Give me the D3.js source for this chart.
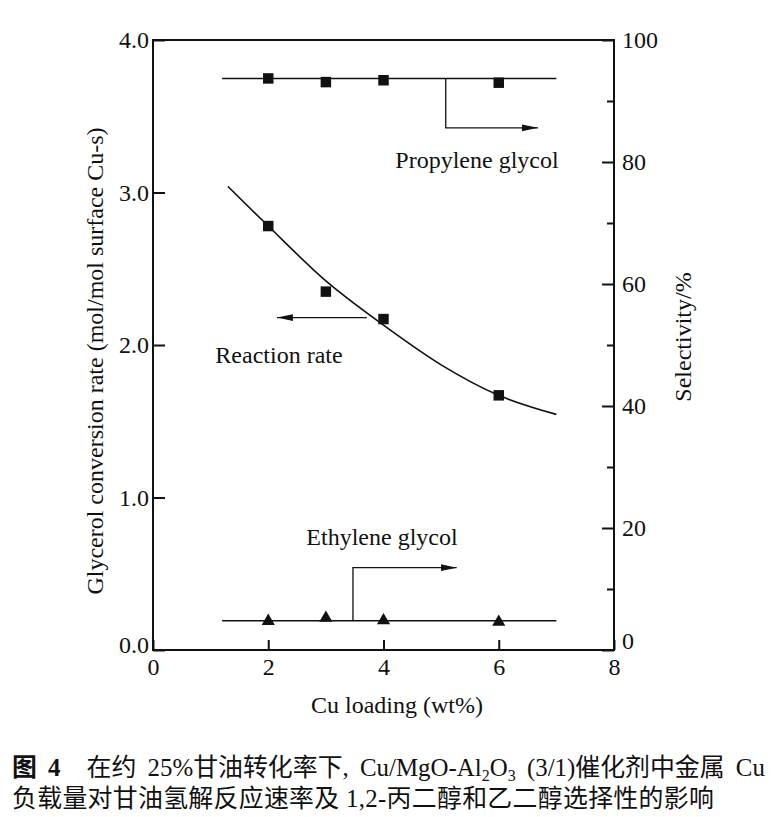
<!DOCTYPE html>
<html>
<head>
<meta charset="utf-8">
<script src="https://cdn.jsdelivr.net/npm/d3@7"></script>
<style>
  html, body { margin: 0; padding: 0; background: #fff; }
  svg { display: block; }
</style>
</head>
<body>
<svg id="chart" width="775" height="817"></svg>
<script>
// ---------- data ----------
const loadings = [2, 3, 4, 6];                       // Cu loading (wt%)
const reactionRate = [2.78, 2.35, 2.17, 1.67];       // left axis
const pgSelectivity = [93.7, 93.1, 93.4, 93.0];      // propylene glycol, right axis
const egSelectivity = [4.9, 5.4, 5.0, 4.75];         // ethylene glycol, right axis

// fitted curve / lines
const rateFitX = [1.3, 2, 3, 4, 5, 6, 7];
const rateFitY = [3.04, 2.78, 2.42, 2.13, 1.87, 1.67, 1.545];
const pgFitX = [1.2, 7.0];
const pgFitY = [93.7, 93.7];
const egFitX = [1.2, 7.0];
const egFitY = [4.8, 4.8];

// axis ticks
const xTicks = [0, 2, 4, 6, 8];
const yLeftTicks = [0, 1, 2, 3, 4];
const yRightMajor = [0, 20, 40, 60, 80, 100];
const yRightMinor = [10, 30, 50, 70, 90];

// annotation arrows (data coordinates)
const pgArrowX = [5.08, 5.08, 6.68];
const pgArrowY = [93.7, 85.6, 85.6];
const rateArrowX = [3.71, 2.15];
const rateArrowY = [2.18, 2.18];
const egArrowX = [3.47, 3.47, 5.27];
const egArrowY = [4.8, 13.5, 13.5];

// ---------- layout ----------
const serif = "'Liberation Serif', 'Times New Roman', serif";
const mLeft = 153, mRight = 614, mTop = 40, mBottom = 650;

const svg = d3.select("#chart");
const x = d3.scaleLinear().domain([0, 8]).range([mLeft, mRight]);
const yL = d3.scaleLinear().domain([0, 4]).range([mBottom, mTop]);
const yR = d3.scaleLinear().domain([0, 100]).range([mBottom, mTop]);

// frame
svg.append("rect")
  .attr("x", mLeft).attr("y", mTop)
  .attr("width", mRight - mLeft).attr("height", mBottom - mTop)
  .attr("fill", "none").attr("stroke", "#111").attr("stroke-width", 2);

function styleAxis(g) {
  g.select(".domain").remove();
  g.selectAll(".tick line").attr("stroke", "#111").attr("stroke-width", 2);
  g.selectAll(".tick text").attr("fill", "#111")
    .style("font-family", serif).style("font-size", "24px");
}

// bottom axis
svg.append("g")
  .attr("transform", `translate(0,${mBottom})`)
  .call(d3.axisBottom(x).tickValues(xTicks).tickFormat(d3.format("d"))
        .tickSizeInner(-10).tickSizeOuter(0).tickPadding(8))
  .call(styleAxis);

// left axis
const gl = svg.append("g")
  .attr("transform", `translate(${mLeft},0)`)
  .call(d3.axisLeft(yL).tickValues(yLeftTicks).tickFormat(d3.format(".1f"))
        .tickSizeInner(-12).tickSizeOuter(0).tickPadding(4))
  .call(styleAxis);
gl.selectAll(".tick text").filter(d => d === 0).attr("dy", "0.12em");

// right axis major
const gr = svg.append("g")
  .attr("transform", `translate(${mRight},0)`)
  .call(d3.axisRight(yR).tickValues(yRightMajor).tickFormat(d3.format("d"))
        .tickSizeInner(-12).tickSizeOuter(0).tickPadding(8))
  .call(styleAxis);
gr.selectAll(".tick text").filter(d => d === 0).attr("dy", "-0.08em");
// right axis minor
svg.append("g")
  .attr("transform", `translate(${mRight},0)`)
  .call(d3.axisRight(yR).tickValues(yRightMinor).tickFormat("")
        .tickSizeInner(-7).tickSizeOuter(0))
  .call(styleAxis);

// axis titles
svg.append("text")
  .attr("transform", `translate(103,361) rotate(-90)`)
  .attr("text-anchor", "middle")
  .style("font-family", serif).style("font-size", "24px").attr("fill", "#111")
  .text("Glycerol conversion rate (mol/mol surface Cu-s)");
svg.append("text")
  .attr("transform", `translate(691,337) rotate(-90)`)
  .attr("text-anchor", "middle")
  .style("font-family", serif).style("font-size", "24px").attr("fill", "#111")
  .text("Selectivity/%");
svg.append("text")
  .attr("x", 397).attr("y", 713)
  .attr("text-anchor", "middle")
  .style("font-family", serif).style("font-size", "24px").attr("fill", "#111")
  .text("Cu loading (wt%)");

// lines
const lineL = d3.line().x(d => x(d[0])).y(d => yL(d[1])).curve(d3.curveMonotoneX);
const lineR = d3.line().x(d => x(d[0])).y(d => yR(d[1]));

svg.append("path")
  .datum(rateFitX.map((v, i) => [v, rateFitY[i]]))
  .attr("d", lineL).attr("fill", "none").attr("stroke", "#111").attr("stroke-width", 1.6);
svg.append("path")
  .datum(pgFitX.map((v, i) => [v, pgFitY[i]]))
  .attr("d", lineR).attr("fill", "none").attr("stroke", "#111").attr("stroke-width", 1.6);
svg.append("path")
  .datum(egFitX.map((v, i) => [v, egFitY[i]]))
  .attr("d", lineR).attr("fill", "none").attr("stroke", "#111").attr("stroke-width", 1.6);

// markers
const sq = d3.symbol().type(d3.symbolSquare).size(110);
const tri = d3.symbol().type(d3.symbolTriangle).size(75);

svg.append("g").selectAll("path")
  .data(loadings.map((v, i) => [v, pgSelectivity[i]]))
  .join("path")
  .attr("transform", d => `translate(${x(d[0])},${yR(d[1])})`)
  .attr("d", sq).attr("fill", "#111");

svg.append("g").selectAll("path")
  .data(loadings.map((v, i) => [v, reactionRate[i]]))
  .join("path")
  .attr("transform", d => `translate(${x(d[0])},${yL(d[1])})`)
  .attr("d", sq).attr("fill", "#111");

svg.append("g").selectAll("path")
  .data(loadings.map((v, i) => [v, egSelectivity[i]]))
  .join("path")
  .attr("transform", d => `translate(${x(d[0])},${yR(d[1]) + 1})`)
  .attr("d", tri).attr("fill", "#111");

// arrows
svg.append("defs").append("marker")
  .attr("id", "ah").attr("viewBox", "0 0 16 8")
  .attr("refX", 16).attr("refY", 4)
  .attr("markerWidth", 16).attr("markerHeight", 8)
  .attr("markerUnits", "userSpaceOnUse")
  .attr("orient", "auto")
  .append("path").attr("d", "M0,0.6 L16,4 L0,7.4 Z").attr("fill", "#111");

function arrow(xs, ys, yScale) {
  svg.append("path")
    .datum(xs.map((v, i) => [v, ys[i]]))
    .attr("d", d3.line().x(d => x(d[0])).y(d => yScale(d[1])))
    .attr("fill", "none").attr("stroke", "#111").attr("stroke-width", 1.3)
    .attr("marker-end", "url(#ah)");
}
arrow(pgArrowX, pgArrowY, yR);
arrow(rateArrowX, rateArrowY, yL);
arrow(egArrowX, egArrowY, yR);

// annotation labels
function label(t, cx, by) {
  svg.append("text").attr("x", cx).attr("y", by).attr("text-anchor", "middle")
    .style("font-family", serif).style("font-size", "24px").attr("fill", "#111").text(t);
}
label("Propylene glycol", 477, 168);
label("Reaction rate", 279, 363);
label("Ethylene glycol", 382, 545);

// caption
const cjk = "'Liberation Serif', 'Noto Sans CJK SC', serif";
const fs = 24.9;
const cap1 = svg.append("text").attr("x", 12).attr("y", 776)
  .style("font-family", cjk).style("font-size", fs + "px").attr("fill", "#111")
  .style("word-spacing", "5px");
cap1.append("tspan").attr("font-weight", "bold").text("图 4");
cap1.append("tspan").attr("dx", 26).text("在约 25%甘油转化率下, Cu/MgO-Al");
cap1.append("tspan").attr("dy", 5).style("font-size", "16px").text("2");
cap1.append("tspan").attr("dy", -5).text("O");
cap1.append("tspan").attr("dy", 5).style("font-size", "16px").text("3");
cap1.append("tspan").attr("dy", -5).text("  (3/1)催化剂中金属 Cu");

svg.append("text").attr("x", 12).attr("y", 807)
  .style("font-family", cjk).style("font-size", fs + "px").attr("fill", "#111")
  .style("letter-spacing", "0.3px")
  .text("负载量对甘油氢解反应速率及 1,2-丙二醇和乙二醇选择性的影响");
</script>
</body>
</html>
